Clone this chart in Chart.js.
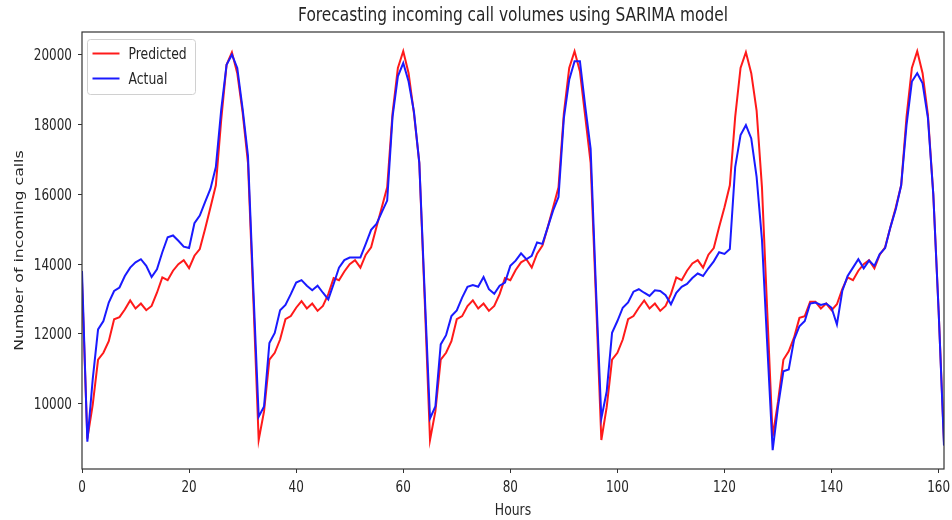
<!DOCTYPE html>
<html>
<head>
<meta charset="utf-8">
<script src="https://cdn.jsdelivr.net/npm/chart.js@4.4.0/dist/chart.umd.min.js"></script>
<style>
  html, body { margin: 0; padding: 0; background: #fff; }
  #wrap { width: 952px; height: 520px; }
</style>
</head>
<body>
<div id="wrap"><canvas id="lineGraph"></canvas></div>
<script>
// hourly series (hours 0..161)
const hours = Array.from({ length: 162 }, (_, i) => i);

const predicted = [
  13500, 9000, 9970, 11260, 11460, 11790, 12420, 12480, 12700, 12960,
  12730, 12870, 12680, 12800, 13180, 13620, 13540, 13810, 14000, 14115,
  13885, 14240, 14430, 15010, 15630, 16260, 18130, 19710, 20070, 19470,
  18350, 16900, 13000, 8960, 9780, 11260, 11460, 11840, 12420, 12510,
  12750, 12940, 12730, 12870, 12660, 12800, 13140, 13600, 13540, 13790,
  14000, 14115, 13900, 14270, 14480, 15060, 15630, 16200, 18320, 19620,
  20100, 19470, 18320, 16900, 13000, 8960, 9780, 11260, 11460, 11790,
  12420, 12510, 12800, 12960, 12730, 12870, 12660, 12800, 13140, 13600,
  13540, 13830, 14050, 14140, 13900, 14300, 14530, 15060, 15630, 16200,
  18320, 19620, 20100, 19520, 18220, 16900, 13000, 8960, 9900, 11260,
  11460, 11840, 12420, 12510, 12750, 12960, 12730, 12870, 12660, 12800,
  13140, 13620, 13540, 13810, 14020, 14115, 13900, 14270, 14460, 15060,
  15630, 16260, 18220, 19620, 20070, 19470, 18400, 16200, 12600, 9060,
  10060, 11260, 11500, 11900, 12460, 12510, 12920, 12920, 12730, 12870,
  12680, 12850, 13280, 13620, 13540, 13810, 14000, 14115, 13880, 14270,
  14480, 15060, 15630, 16260, 18220, 19620, 20100, 19470, 18270, 16000,
  12650, 8900
];

const actual = [
  13800, 8910, 10700, 12130, 12370, 12900, 13230, 13330, 13660, 13900,
  14050, 14140, 13950, 13630, 13850, 14340, 14770, 14820, 14670, 14500,
  14460, 15170, 15390, 15780, 16160, 16780, 18420, 19710, 20000, 19620,
  18450, 17100, 13300, 9630, 9920, 11740, 12030, 12680, 12830, 13140,
  13470, 13540, 13380, 13250, 13380, 13180, 12990, 13430, 13900, 14115,
  14190, 14190, 14190, 14580, 14980, 15150, 15490, 15820, 18220, 19380,
  19760, 19230, 18370, 16900, 13200, 9580, 9920, 11700, 11965, 12510,
  12675, 13040, 13350, 13400, 13350, 13630, 13280, 13150, 13380, 13470,
  13950, 14100, 14310, 14140, 14240, 14620, 14580, 15060, 15540, 15920,
  18180, 19280, 19810, 19810, 18510, 17300, 13300, 9580, 10350, 12030,
  12370, 12750, 12900, 13210, 13280, 13180, 13090, 13250, 13230, 13110,
  12850, 13180, 13350, 13430, 13600, 13730, 13660, 13880, 14080, 14340,
  14290, 14430, 16780, 17700, 17980, 17600, 16500, 14700, 11650, 8670,
  9920, 10930, 10980, 11840, 12220, 12370, 12870, 12900, 12830, 12870,
  12750, 12270, 13230, 13660, 13900, 14140, 13880, 14100, 13950, 14290,
  14460, 15060, 15580, 16260, 17980, 19230, 19470, 19180, 18180, 16000,
  12650, 8800
];

const xTicks = [0, 20, 40, 60, 80, 100, 120, 140, 160];
const yTicks = [10000, 12000, 14000, 16000, 18000, 20000];

const chartTitle = "Forecasting incoming call volumes using SARIMA model";
const xTitle = "Hours";
const yTitle = "Number of incoming calls";

const textColor = "#262626";
const fontFamily = "'DejaVu Sans', sans-serif";
// the reference image is squeezed sideways, so text is drawn narrower than tall
const squeeze = 0.8;

function squeezedText(ctx, text, x, y, size, align, sx) {
  ctx.save();
  ctx.font = size + "px " + fontFamily;
  ctx.textAlign = align;
  ctx.textBaseline = "alphabetic";
  ctx.fillStyle = textColor;
  ctx.translate(x, y);
  ctx.scale(sx || squeeze, 1);
  ctx.fillText(text, 0, 0);
  ctx.restore();
}

// frame around the plot area, like matplotlib spines
const frame = {
  id: "frame",
  afterDatasetsDraw(chart) {
    const { ctx, chartArea: a } = chart;
    ctx.save();
    ctx.strokeStyle = "#333";
    ctx.lineWidth = 1.2;
    ctx.strokeRect(a.left, a.top, a.right - a.left, a.bottom - a.top);
    ctx.restore();
  },
};

// title, axis titles and tick labels placed from the chart's scales
const labels = {
  id: "labels",
  afterDraw(chart) {
    const { ctx, chartArea: a, scales } = chart;
    const midX = (a.left + a.right) / 2;

    squeezedText(ctx, chartTitle, midX, 21, 18.8, "center", 0.82);

    scales.x.ticks.forEach((t) => {
      const px = scales.x.getPixelForValue(t.value);
      squeezedText(ctx, String(t.value), px, a.bottom + 23, 15, "center");
    });
    squeezedText(ctx, xTitle, midX, 515, 15.5, "center");

    scales.y.ticks.forEach((t) => {
      const py = scales.y.getPixelForValue(t.value);
      squeezedText(ctx, String(t.value), a.left - 10, py + 5.5, 15, "right");
    });

    ctx.save();
    ctx.font = "15.7px " + fontFamily;
    ctx.textAlign = "center";
    ctx.textBaseline = "alphabetic";
    ctx.fillStyle = textColor;
    ctx.translate(23, (a.top + a.bottom) / 2);
    ctx.rotate(-Math.PI / 2);
    ctx.scale(1, squeeze);
    ctx.fillText(yTitle, 0, 0);
    ctx.restore();
  },
};

// legend box inside the upper-left corner
const innerLegend = {
  id: "innerLegend",
  afterDraw(chart) {
    const { ctx, chartArea: a } = chart;
    const x = a.left + 5.5;
    const y = a.top + 7.5;
    const w = 108;
    const h = 55;
    ctx.save();
    ctx.fillStyle = "rgba(255,255,255,0.85)";
    ctx.strokeStyle = "#d0d0d0";
    ctx.lineWidth = 1;
    ctx.beginPath();
    ctx.roundRect(x, y, w, h, 3);
    ctx.fill();
    ctx.stroke();
    chart.data.datasets.forEach((ds, i) => {
      const ly = y + 14 + i * 25;
      ctx.strokeStyle = ds.borderColor;
      ctx.lineWidth = 2;
      ctx.beginPath();
      ctx.moveTo(x + 5, ly);
      ctx.lineTo(x + 32, ly);
      ctx.stroke();
      squeezedText(ctx, ds.label, x + 41, ly + 5.5, 15.5, "left");
    });
    ctx.restore();
  },
};

function createCallChart() {
  const toPoints = (arr) => arr.map((v, i) => ({ x: hours[i], y: v }));

  new Chart(document.getElementById("lineGraph"), {
    type: "line",
    data: {
      datasets: [
        {
          label: "Predicted",
          data: toPoints(predicted),
          borderColor: "#ff1a1a",
          borderWidth: 2,
          pointRadius: 0,
          fill: false,
          order: 1,
        },
        {
          label: "Actual",
          data: toPoints(actual),
          borderColor: "#1a1aff",
          borderWidth: 2,
          pointRadius: 0,
          fill: false,
          order: 0,
        },
      ],
    },
    options: {
      responsive: true,
      maintainAspectRatio: false,
      animation: false,
      layout: { padding: { left: 0, right: 8, top: 32, bottom: 0 } },
      plugins: {
        legend: { display: false },
        tooltip: { enabled: false },
        title: { display: false },
      },
      scales: {
        x: {
          type: "linear",
          min: 0,
          max: 161,
          afterBuildTicks: (axis) => {
            axis.ticks = xTicks.map((v) => ({ value: v }));
          },
          afterFit: (axis) => {
            axis.height = 51;
          },
          ticks: { display: false },
          grid: {
            display: true,
            drawOnChartArea: false,
            drawTicks: true,
            tickLength: 4,
            color: "#333",
          },
          border: { display: false },
        },
        y: {
          min: 8130,
          max: 20650,
          afterBuildTicks: (axis) => {
            axis.ticks = yTicks.map((v) => ({ value: v }));
          },
          afterFit: (axis) => {
            axis.width = 82;
          },
          ticks: { display: false },
          grid: {
            display: true,
            drawOnChartArea: false,
            drawTicks: true,
            tickLength: 4,
            color: "#333",
          },
          border: { display: false },
        },
      },
    },
    plugins: [frame, labels, innerLegend],
  });
}

document.addEventListener("DOMContentLoaded", () => {
  createCallChart();
});
</script>
</body>
</html>
